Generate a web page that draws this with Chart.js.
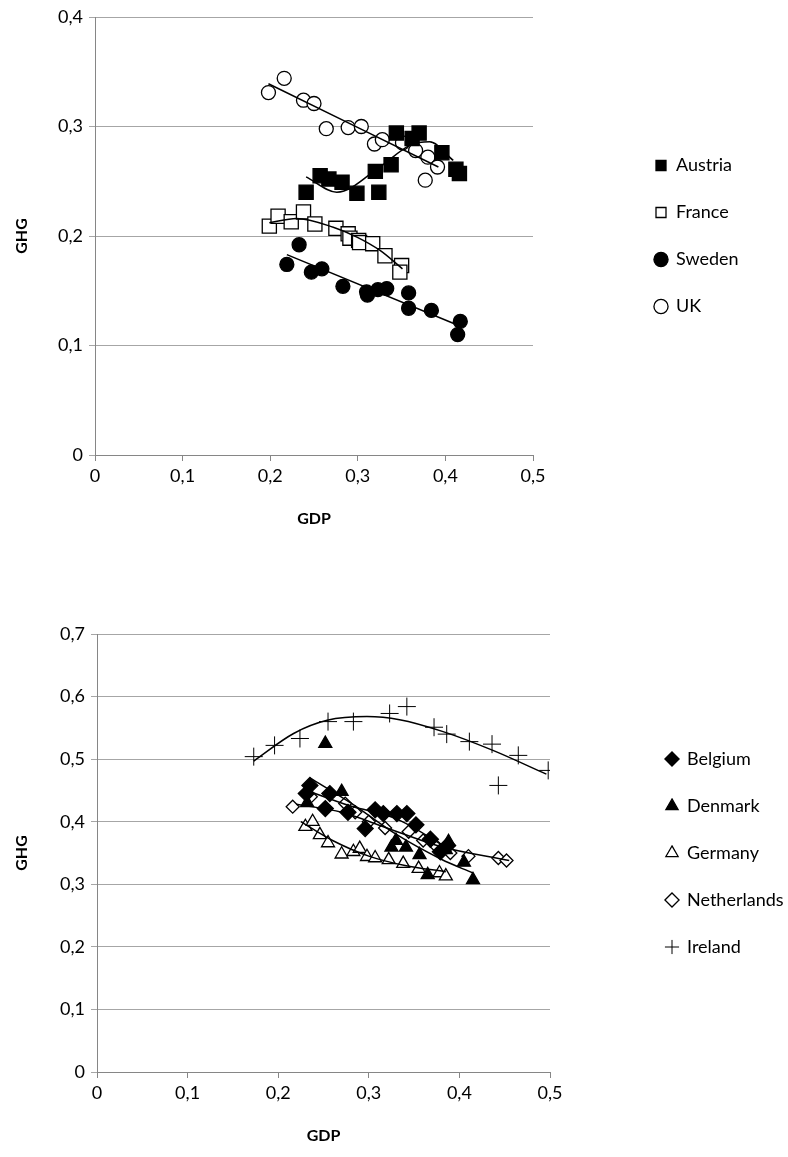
<!DOCTYPE html>
<html lang="en">
<head>
<meta charset="UTF-8">
<title>GHG vs GDP</title>
<script src="https://cdn.jsdelivr.net/npm/chart.js"></script>
<style>
  body { margin: 0; background: #fff; }
  .box { position: absolute; left: 0; }
</style>
</head>
<body>
<div class="box" style="top:0"><canvas id="topChart" width="788" height="560"></canvas></div>
<div class="box" style="top:560px"><canvas id="bottomChart" width="788" height="597"></canvas></div>
<script>
// ---- top chart data
const austriaGdp = [0.241, 0.257, 0.267, 0.282, 0.299, 0.320, 0.324, 0.338, 0.344, 0.362, 0.370, 0.396, 0.412, 0.416];
const austriaGhg = [0.240, 0.255, 0.252, 0.249, 0.239, 0.259, 0.240, 0.265, 0.294, 0.289, 0.294, 0.276, 0.261, 0.257];
const franceGdp = [0.199, 0.209, 0.224, 0.238, 0.251, 0.275, 0.289, 0.291, 0.301, 0.302, 0.317, 0.331, 0.350, 0.348];
const franceGhg = [0.209, 0.218, 0.213, 0.222, 0.211, 0.207, 0.202, 0.198, 0.196, 0.194, 0.193, 0.182, 0.173, 0.167];
const swedenGdp = [0.219, 0.233, 0.247, 0.259, 0.283, 0.310, 0.311, 0.323, 0.333, 0.358, 0.358, 0.384, 0.417, 0.414];
const swedenGhg = [0.174, 0.192, 0.167, 0.170, 0.154, 0.149, 0.146, 0.151, 0.152, 0.148, 0.134, 0.132, 0.122, 0.110];
const ukGdp = [0.198, 0.216, 0.238, 0.250, 0.264, 0.289, 0.304, 0.319, 0.328, 0.351, 0.366, 0.380, 0.391, 0.377];
const ukGhg = [0.331, 0.344, 0.324, 0.321, 0.298, 0.299, 0.300, 0.284, 0.288, 0.285, 0.278, 0.272, 0.263, 0.251];

// trend lines
const austriaTrendGdp = [0.241, 0.276, 0.325, 0.360, 0.382, 0.409];
const austriaTrendGhg = [0.254, 0.240, 0.263, 0.283, 0.286, 0.269];
const franceTrendGdp = [0.199, 0.230, 0.272, 0.299, 0.325, 0.351];
const franceTrendGhg = [0.212, 0.216, 0.208, 0.199, 0.187, 0.170];
const swedenTrendGdp = [0.219, 0.413];
const swedenTrendGhg = [0.183, 0.119];
const ukTrendGdp = [0.198, 0.392];
const ukTrendGhg = [0.339, 0.263];

// ---- bottom chart data
const belgiumGdp = [0.231, 0.235, 0.252, 0.257, 0.277, 0.296, 0.307, 0.316, 0.331, 0.342, 0.352, 0.368, 0.379, 0.387];
const belgiumGhg = [0.445, 0.458, 0.421, 0.445, 0.415, 0.389, 0.419, 0.413, 0.413, 0.413, 0.395, 0.372, 0.352, 0.362];
const denmarkGdp = [0.252, 0.232, 0.270, 0.325, 0.330, 0.341, 0.356, 0.365, 0.385, 0.388, 0.405, 0.415];
const denmarkGhg = [0.525, 0.430, 0.448, 0.359, 0.370, 0.359, 0.347, 0.315, 0.355, 0.368, 0.335, 0.307];
const germanyGdp = [0.230, 0.238, 0.246, 0.255, 0.270, 0.283, 0.290, 0.298, 0.307, 0.322, 0.338, 0.355, 0.378, 0.385];
const germanyGhg = [0.392, 0.400, 0.379, 0.366, 0.348, 0.352, 0.357, 0.344, 0.342, 0.339, 0.333, 0.325, 0.318, 0.313];
const netherlandsGdp = [0.216, 0.236, 0.274, 0.285, 0.300, 0.318, 0.344, 0.360, 0.375, 0.390, 0.410, 0.443, 0.452];
const netherlandsGhg = [0.424, 0.440, 0.429, 0.415, 0.400, 0.390, 0.384, 0.370, 0.360, 0.350, 0.345, 0.342, 0.338];
const irelandGdp = [0.173, 0.196, 0.224, 0.255, 0.283, 0.323, 0.342, 0.372, 0.386, 0.411, 0.436, 0.443, 0.465, 0.498];
const irelandGhg = [0.504, 0.522, 0.533, 0.560, 0.560, 0.573, 0.584, 0.551, 0.540, 0.528, 0.524, 0.458, 0.506, 0.482];

const belgiumTrendGdp = [0.228, 0.280, 0.330, 0.390];
const belgiumTrendGhg = [0.452, 0.425, 0.405, 0.355];
const denmarkTrendGdp = [0.235, 0.280, 0.330, 0.380, 0.415];
const denmarkTrendGhg = [0.470, 0.430, 0.380, 0.340, 0.318];
const germanyTrendGdp = [0.225, 0.260, 0.300, 0.340, 0.385];
const germanyTrendGhg = [0.400, 0.370, 0.345, 0.330, 0.320];
const netherlandsTrendGdp = [0.220, 0.270, 0.320, 0.380, 0.455];
const netherlandsTrendGhg = [0.428, 0.415, 0.390, 0.360, 0.338];
const irelandTrendGdp = [0.173, 0.217, 0.254, 0.298, 0.334, 0.382, 0.437, 0.496];
const irelandTrendGhg = [0.497, 0.541, 0.562, 0.568, 0.563, 0.544, 0.514, 0.476];

const xTicks = [0, 0.1, 0.2, 0.3, 0.4, 0.5];

Chart.defaults.font.family = 'Lato, "Open Sans", sans-serif';
Chart.defaults.color = '#000';

function pts(xs, ys) {
  return xs.map((x, i) => ({ x: x, y: ys[i] }));
}

function markers(label, xs, ys, style, radius, filled) {
  return {
    label: label,
    data: pts(xs, ys),
    pointStyle: style,
    pointRadius: radius,
    pointHoverRadius: radius,
    backgroundColor: filled ? '#000' : '#fff',
    borderColor: '#000',
    borderWidth: style === 'cross' ? 1 : 1.3
  };
}

function trend(xs, ys) {
  return {
    label: 'trend',
    trend: true,
    data: pts(xs, ys),
    showLine: true,
    pointRadius: 0,
    borderColor: '#000',
    borderWidth: 1.5,
    cubicInterpolationMode: 'monotone',
    order: -1
  };
}

function comma(v) {
  return String(Math.round(v * 10) / 10).replace('.', ',');
}

// move the legend to a fixed spot on the right
const legendPlace = {
  id: 'legendPlace',
  afterLayout(chart, args, opts) {
    const lg = chart.legend;
    const pad = chart.options.plugins.legend.labels.padding;
    const bw = chart.options.plugins.legend.labels.boxWidth;
    lg.left = opts.markerX - pad - bw / 2;
    lg.right = lg.left + lg.width;
    lg.top = chart.chartArea.top;
    lg.bottom = chart.chartArea.bottom;
    lg.height = lg.bottom - lg.top;
  }
};

function makeChart(id, datasets, yMax, plotLeft, plotRight, plotTop, canvasH, plotBottom, markerX) {
  return new Chart(document.getElementById(id), {
    type: 'scatter',
    data: { datasets: datasets },
    plugins: [legendPlace],
    options: {
      responsive: false,
      animation: false,
      devicePixelRatio: 1,
      layout: {
        padding: { left: 0, top: plotTop, right: 788 - plotRight, bottom: canvasH - plotBottom - 85 }
      },
      plugins: {
        legend: {
          position: 'chartArea',
          align: 'center',
          labels: {
            usePointStyle: true,
            boxWidth: 12,
            boxHeight: 10,
            padding: 29,
            font: { size: 18 },
            filter: (item, data) => !data.datasets[item.datasetIndex].trend
          }
        },
        legendPlace: { markerX: markerX },
        tooltip: { enabled: false }
      },
      scales: {
        x: {
          type: 'linear',
          min: 0,
          max: 0.5,
          afterBuildTicks: s => { s.ticks = xTicks.map(v => ({ value: v })); },
          afterFit: s => { s.height = 85; },
          border: { color: '#868686', width: 1 },
          grid: { drawOnChartArea: false, color: '#868686', tickLength: 6 },
          ticks: { callback: v => comma(v), font: { size: 18 }, padding: 4, maxRotation: 0 },
          title: { display: true, text: 'GDP', font: { size: 16, weight: 'bold' }, padding: { top: 0, bottom: 12 } }
        },
        y: {
          type: 'linear',
          min: 0,
          max: yMax,
          ticks: { stepSize: 0.1, callback: v => comma(v), font: { size: 18 }, padding: 6 },
          afterFit: s => { s.width = plotLeft; },
          border: { color: '#868686', width: 1 },
          grid: { color: '#a6a6a6', tickLength: 6 },
          title: { display: true, text: 'GHG', font: { size: 16, weight: 'bold' }, padding: { top: 12, bottom: 0 } }
        }
      }
    }
  });
}

makeChart('topChart', [
  markers('Austria', austriaGdp, austriaGhg, 'rect', 10, true),
  markers('France', franceGdp, franceGhg, 'rect', 10, false),
  markers('Sweden', swedenGdp, swedenGhg, 'circle', 7, true),
  markers('UK', ukGdp, ukGhg, 'circle', 7, false),
  trend(austriaTrendGdp, austriaTrendGhg),
  trend(franceTrendGdp, franceTrendGhg),
  trend(swedenTrendGdp, swedenTrendGhg),
  trend(ukTrendGdp, ukTrendGhg)
], 0.4, 95, 533, 17, 560, 455, 661);

makeChart('bottomChart', [
  markers('Belgium', belgiumGdp, belgiumGhg, 'rectRot', 8, true),
  markers('Denmark', denmarkGdp, denmarkGhg, 'triangle', 7.5, true),
  markers('Germany', germanyGdp, germanyGhg, 'triangle', 7.5, false),
  markers('Netherlands', netherlandsGdp, netherlandsGhg, 'rectRot', 6.5, false),
  markers('Ireland', irelandGdp, irelandGhg, 'cross', 9, false),
  trend(belgiumTrendGdp, belgiumTrendGhg),
  trend(denmarkTrendGdp, denmarkTrendGhg),
  trend(germanyTrendGdp, germanyTrendGhg),
  trend(netherlandsTrendGdp, netherlandsTrendGhg),
  trend(irelandTrendGdp, irelandTrendGhg)
], 0.7, 97, 550, 74, 597, 512, 672);
</script>
</body>
</html>
